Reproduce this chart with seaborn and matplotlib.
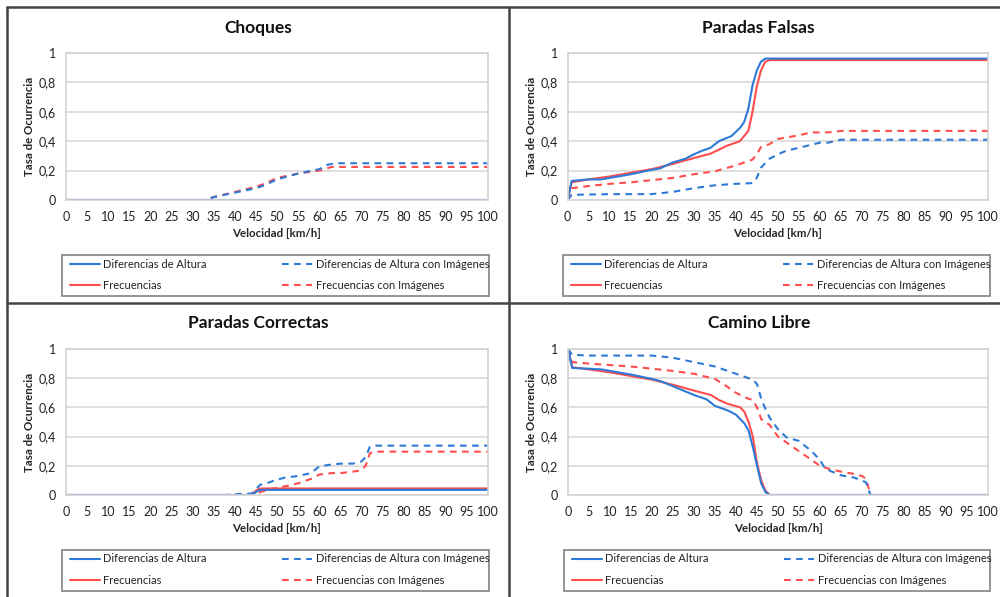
import numpy as np
import pandas as pd
import matplotlib
matplotlib.use("Agg")
import matplotlib.pyplot as plt
from matplotlib.lines import Line2D
from matplotlib.patches import Rectangle
import seaborn as sns

sns.set_theme(style="white")
plt.rcParams["font.family"] = ["Lato", "DejaVu Sans"]

SERIES = [
    "Diferencias de Altura",
    "Diferencias de Altura con Imágenes",
    "Frecuencias",
    "Frecuencias con Imágenes",
]
BLUE = "#2E7AD6"
RED = "#FF4D4D"
X_TICKS = list(range(0, 101, 5))
Y_TICKS = [0, 0.2, 0.4, 0.6, 0.8, 1]
Y_TICK_LABELS = ["0", "0,2", "0,4", "0,6", "0,8", "1"]

# ---- Choques ----
choques_da_x = [0, 100]
choques_da_y = [0, 0]
choques_fr_x = [0, 100]
choques_fr_y = [0, 0]
choques_dai_x = [0, 33, 35, 40, 45, 47, 50, 55, 60, 62, 64, 100]
choques_dai_y = [0, 0, 0.02, 0.05, 0.08, 0.10, 0.14, 0.18, 0.21, 0.24, 0.25, 0.25]
choques_fri_x = [0, 33, 35, 40, 45, 47, 50, 55, 60, 63, 100]
choques_fri_y = [0, 0, 0.02, 0.055, 0.09, 0.11, 0.15, 0.18, 0.20, 0.225, 0.225]

# ---- Paradas Falsas ----
pf_da_x = [0, 1, 5, 8, 10, 15, 20, 22, 25, 28, 30, 32, 34, 36, 39, 41, 42, 43, 44, 45, 46, 47, 100]
pf_da_y = [0, 0.13, 0.14, 0.14, 0.15, 0.175, 0.205, 0.215, 0.255, 0.28, 0.31, 0.335, 0.355,
           0.40, 0.435, 0.49, 0.53, 0.62, 0.78, 0.88, 0.94, 0.962, 0.962]
pf_fr_x = [0, 1, 5, 10, 15, 20, 25, 30, 34, 38, 41, 43, 44, 45, 46, 47, 48, 100]
pf_fr_y = [0, 0.12, 0.14, 0.16, 0.185, 0.21, 0.245, 0.285, 0.315, 0.37, 0.40, 0.47, 0.60,
           0.77, 0.88, 0.94, 0.952, 0.952]
pf_dai_x = [0, 1, 10, 20, 25, 30, 35, 40, 44, 45, 46, 48, 50, 52, 55, 60, 62, 65, 100]
pf_dai_y = [0, 0.035, 0.04, 0.04, 0.055, 0.08, 0.10, 0.11, 0.115, 0.15, 0.22, 0.28, 0.31,
            0.335, 0.355, 0.39, 0.39, 0.41, 0.41]
pf_fri_x = [0, 1, 5, 10, 15, 20, 25, 30, 35, 40, 44, 45, 46, 48, 50, 52, 55, 58, 62, 65, 100]
pf_fri_y = [0, 0.08, 0.095, 0.11, 0.12, 0.135, 0.15, 0.175, 0.195, 0.235, 0.275, 0.31, 0.36,
            0.38, 0.415, 0.425, 0.44, 0.46, 0.46, 0.47, 0.47]

# ---- Paradas Correctas ----
pc_da_x = [0, 44, 45, 46, 100]
pc_da_y = [0, 0, 0.02, 0.035, 0.035]
pc_fr_x = [0, 44, 45, 46, 100]
pc_fr_y = [0, 0, 0.03, 0.045, 0.045]
pc_dai_x = [0, 38, 40, 44, 45, 46, 48, 50, 52, 55, 58, 60, 62, 65, 68, 70, 71, 72, 73, 100]
pc_dai_y = [0, 0, 0.005, 0.01, 0.04, 0.07, 0.085, 0.105, 0.12, 0.13, 0.15, 0.195, 0.205,
            0.215, 0.215, 0.23, 0.26, 0.33, 0.338, 0.338]
pc_fri_x = [0, 44, 45, 46, 48, 50, 53, 55, 58, 60, 63, 65, 68, 70, 71, 72, 73, 100]
pc_fri_y = [0, 0, 0.005, 0.02, 0.035, 0.05, 0.065, 0.08, 0.11, 0.14, 0.15, 0.15, 0.16,
            0.17, 0.20, 0.285, 0.297, 0.297]

# ---- Camino Libre ----
cl_da_x = [0, 1, 5, 8, 10, 15, 20, 22, 25, 30, 33, 35, 38, 40, 42, 43, 44, 45, 46, 47, 48, 100]
cl_da_y = [1.0, 0.87, 0.865, 0.86, 0.85, 0.825, 0.795, 0.78, 0.745, 0.685, 0.655, 0.61,
           0.58, 0.55, 0.49, 0.44, 0.33, 0.20, 0.08, 0.02, 0, 0]
cl_fr_x = [0, 1, 5, 10, 15, 20, 25, 30, 34, 36, 38, 41, 42, 43, 44, 45, 46, 47, 48, 100]
cl_fr_y = [1.0, 0.875, 0.86, 0.84, 0.815, 0.79, 0.755, 0.715, 0.685, 0.65, 0.625, 0.60,
           0.57, 0.50, 0.40, 0.22, 0.10, 0.03, 0, 0]
cl_dai_x = [0, 1, 5, 10, 15, 20, 25, 30, 35, 40, 44, 45, 46, 47, 48, 50, 52, 55, 58, 60, 61,
            62, 65, 68, 70, 71, 72, 100]
cl_dai_y = [1.0, 0.96, 0.955, 0.955, 0.955, 0.955, 0.94, 0.91, 0.88, 0.83, 0.79, 0.76, 0.66,
            0.59, 0.53, 0.45, 0.395, 0.37, 0.30, 0.24, 0.19, 0.17, 0.135, 0.12, 0.10, 0.085,
            0, 0]
cl_fri_x = [0, 1, 5, 10, 15, 20, 25, 30, 35, 38, 40, 42, 44, 45, 46, 48, 50, 52, 55, 58, 60,
            62, 65, 68, 70, 71, 72, 100]
cl_fri_y = [1.0, 0.91, 0.90, 0.89, 0.88, 0.865, 0.85, 0.83, 0.795, 0.74, 0.70, 0.67, 0.65,
            0.60, 0.52, 0.48, 0.40, 0.36, 0.30, 0.24, 0.20, 0.18, 0.16, 0.145, 0.13, 0.11,
            0, 0]

PANELS = [
    ("Choques", [(choques_da_x, choques_da_y), (choques_dai_x, choques_dai_y),
                 (choques_fr_x, choques_fr_y), (choques_fri_x, choques_fri_y)]),
    ("Paradas Falsas", [(pf_da_x, pf_da_y), (pf_dai_x, pf_dai_y),
                        (pf_fr_x, pf_fr_y), (pf_fri_x, pf_fri_y)]),
    ("Paradas Correctas", [(pc_da_x, pc_da_y), (pc_dai_x, pc_dai_y),
                           (pc_fr_x, pc_fr_y), (pc_fri_x, pc_fri_y)]),
    ("Camino Libre", [(cl_da_x, cl_da_y), (cl_dai_x, cl_dai_y),
                      (cl_fr_x, cl_fr_y), (cl_fri_x, cl_fri_y)]),
]

PALETTE = {SERIES[0]: BLUE, SERIES[1]: BLUE, SERIES[2]: RED, SERIES[3]: RED}
DASH = (3.2, 2.6)
DASHES = {SERIES[0]: "", SERIES[1]: DASH, SERIES[2]: "", SERIES[3]: DASH}
# draw order: dashed first, solid red under solid blue
ORDER = [SERIES[3], SERIES[1], SERIES[2], SERIES[0]]
# legend entries column by column: solid lines left, dashed lines right
LEGEND_ORDER = [0, 2, 1, 3]

W, H = 1000, 597
fig = plt.figure(figsize=(W / 100, H / 100), dpi=100)
fig.patch.set_facecolor("white")


def fx(px):
    return px / W


def fy(py):
    return 1 - py / H


# pixel boxes: axes (left, top, right, bottom), legend frame (left, top, right, bottom), title y
LAYOUT = [
    ((66, 53, 488, 200), (62, 255, 489, 296), 28),
    ((567.5, 53, 988, 200), (563, 255, 990, 296), 28),
    ((66, 349, 488, 495), (62, 550, 489, 591), 323),
    ((568, 349, 988, 495), (564, 550, 990, 591), 323),
]

for (title, series_data), (abox, lbox, ty) in zip(PANELS, LAYOUT):
    l, t, r, b = abox
    ax = fig.add_axes([fx(l), fy(b), fx(r) - fx(l), (b - t) / H])
    rows = []
    for name, (xs, ys) in zip(SERIES, series_data):
        for xv, yv in zip(xs, ys):
            rows.append({"Velocidad": xv, "Tasa": yv, "Serie": name})
    df = pd.DataFrame(rows)
    for name in ORDER:
        sub = df[df["Serie"] == name]
        sns.lineplot(data=sub, x="Velocidad", y="Tasa", color=PALETTE[name],
                     linewidth=1.5, ax=ax, legend=False, estimator=None, sort=False)
        line = ax.get_lines()[-1]
        if DASHES[name]:
            line.set_dashes(DASHES[name])
        line.set_solid_capstyle("butt")
    ax.set_xlim(0, 100)
    ax.set_ylim(0, 1)
    ax.set_xticks(X_TICKS)
    ax.set_xticklabels([str(v) for v in X_TICKS], fontsize=9, color="#222222")
    ax.set_yticks(Y_TICKS)
    ax.set_yticklabels(Y_TICK_LABELS, fontsize=9, color="#222222")
    ax.tick_params(axis="x", length=0, pad=8)
    ax.tick_params(axis="y", length=0, pad=7)
    ax.grid(axis="y", color="#d9d9d9", linewidth=1.2)
    ax.set_axisbelow(True)
    for sp in ax.spines.values():
        sp.set_color("#d4d4d4")
        sp.set_linewidth(1.2)
    ax.set_xlabel("Velocidad [km/h]", fontsize=8.3, fontweight="bold", labelpad=3.5)
    ax.set_ylabel("Tasa de Ocurrencia", fontsize=8.3, fontweight="bold", labelpad=2.5)
    fig.text(fx((l + r) / 2 - 19), fy(ty), title, fontsize=12.5, fontweight="bold",
             ha="center", va="center", color="#111111")

    handles = [
        Line2D([], [], color=BLUE, lw=1.5),
        Line2D([], [], color=BLUE, lw=1.5, dashes=DASH),
        Line2D([], [], color=RED, lw=1.5),
        Line2D([], [], color=RED, lw=1.5, dashes=DASH),
    ]
    ll, lt, lr, lb = lbox
    fig.add_artist(Rectangle((fx(ll), fy(lb)), fx(lr) - fx(ll), (lb - lt) / H,
                             transform=fig.transFigure, facecolor="none",
                             edgecolor="#8c8c8c", linewidth=1.3))
    leg = fig.legend([handles[i] for i in LEGEND_ORDER], [SERIES[i] for i in LEGEND_ORDER],
                     ncol=2, loc="upper left",
                     bbox_to_anchor=(fx(ll + 8), fy(lt + 3.5)),
                     fontsize=8, frameon=False,
                     handlelength=2.7, handletextpad=0.3, borderpad=0,
                     labelspacing=0.95, columnspacing=6.8, borderaxespad=0)
    for txt in leg.get_texts():
        txt.set_color("#222222")

# panel separator lines
sep = dict(color="#444444", linewidth=1.8, transform=fig.transFigure)
fig.add_artist(Line2D([fx(7), 1], [fy(7), fy(7)], **sep))
fig.add_artist(Line2D([fx(7), fx(7)], [0, fy(7)], **sep))
fig.add_artist(Line2D([fx(509), fx(509)], [0, fy(7)], **sep))
fig.add_artist(Line2D([fx(7), 1], [fy(303), fy(303)], **sep))

fig.savefig("out.png", dpi=100, facecolor="white")
